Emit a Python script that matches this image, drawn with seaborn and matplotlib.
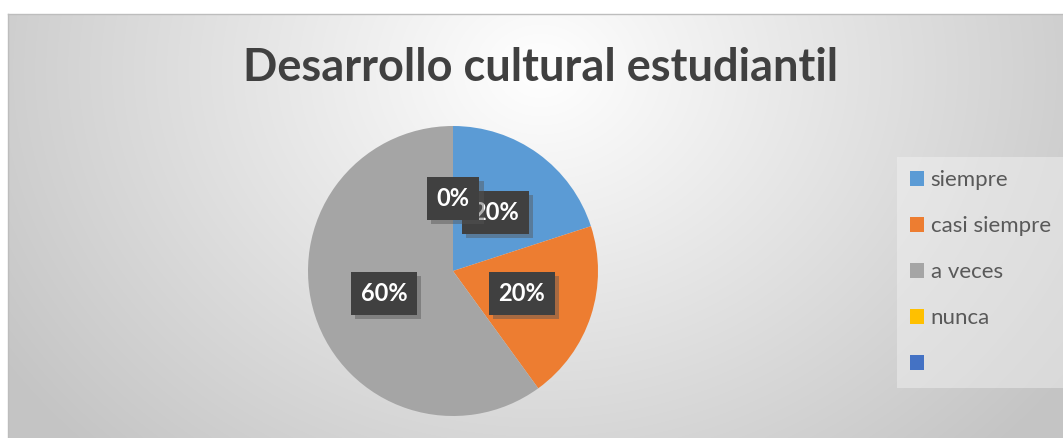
import numpy as np
import matplotlib
matplotlib.use("Agg")
import matplotlib.pyplot as plt
import matplotlib.patheffects as pe
from matplotlib.patches import Patch
import seaborn as sns

# ---- data ----
title = "Desarrollo cultural estudiantil"
categories = ["siempre", "casi siempre", "a veces", "nunca", ""]
values = [20, 20, 60, 0]
colors = ["#5B9BD5", "#ED7D31", "#A5A5A5", "#FFC000", "#4472C4"]

sns.set_theme(style="white")
plt.rcParams["font.family"] = ["Lato", "DejaVu Sans"]

W, H = 1063, 438
fig = plt.figure(figsize=(W / 100, H / 100), dpi=100)
fig.patch.set_facecolor("white")

# ---- chart area background (radial gradient) ----
x0, ytop = 8, 14
bg = fig.add_axes([x0 / W, 0, 1 - x0 / W, (H - ytop) / H])
xs = np.arange(x0, W)
ys = np.arange(ytop, H)
X, Y = np.meshgrid(xs, ys)
d = np.sqrt(((X - 540) / 540.0) ** 2 + ((Y - 70) / 450.0) ** 2)
t = np.clip(d / 1.2, 0, 1)
lev = 1.0 - t * (1 - 196 / 255)
img = np.dstack([lev, lev, lev])
bg.imshow(img, aspect="auto", extent=(0, 1, 0, 1), origin="upper")
bg.set_xticks([]); bg.set_yticks([])
for s in ["right", "bottom"]:
    bg.spines[s].set_visible(False)
for s in ["top", "left"]:
    bg.spines[s].set_color("#bdbdbd")
    bg.spines[s].set_linewidth(1.0)

# ---- pie ----
cx, cy, R = 453, 271, 145
ax = fig.add_axes([(cx - R) / W, (H - cy - R) / H, 2 * R / W, 2 * R / H])
wedges, texts, autotexts = ax.pie(
    values, colors=colors[:4], startangle=90, counterclock=False,
    autopct="%1.0f%%", pctdistance=0.5, radius=1.0,
    wedgeprops=dict(linewidth=0),
    textprops=dict(color="white", fontsize=17, fontweight="bold"))
ax.set_xlim(-1, 1); ax.set_ylim(-1, 1)
ax.set_aspect("auto")
ax.patch.set_alpha(0)
for at in autotexts:
    at.set_bbox(dict(boxstyle="square,pad=0.42", facecolor="#404040", edgecolor="none"))
    at.get_bbox_patch().set_path_effects(
        [pe.SimplePatchShadow(offset=(3, -3), shadow_rgbFace="#555555", alpha=0.45), pe.Normal()])

# ---- title ----
fig.text(541 / W, 1 - 68 / H, title, ha="center", va="center",
         fontsize=32.5, fontweight="bold", color="#404040")

# ---- legend ----
handles = [Patch(facecolor=c, edgecolor="none") for c in colors]
leg = fig.legend(handles, categories, loc="upper left",
                 bbox_to_anchor=(897 / W, 1 - 157 / H), borderaxespad=0,
                 fontsize=16, labelcolor="#595959", frameon=True,
                 handlelength=0.63, handleheight=0.63, handletextpad=0.28,
                 labelspacing=1.17, borderpad=0.6)
fr = leg.get_frame()
fr.set_facecolor("#f4f4f4"); fr.set_alpha(0.45); fr.set_edgecolor("none")
fr.set_boxstyle("square,pad=0")

fig.savefig("out.png", dpi=100)
